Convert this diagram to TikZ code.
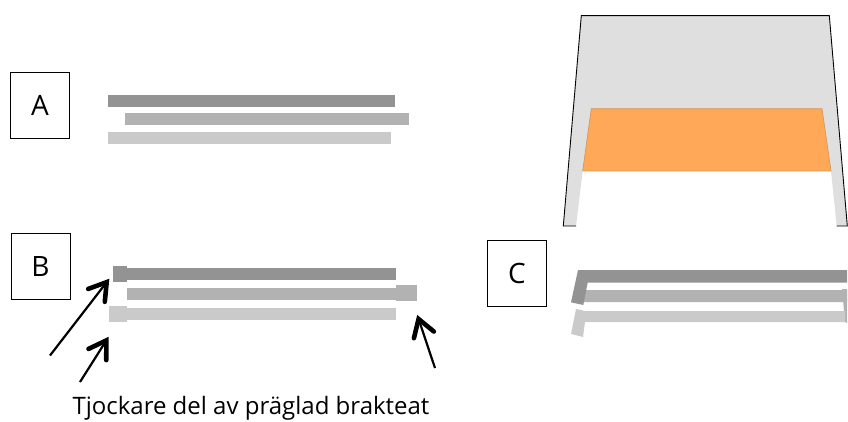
\documentclass[tikz,border=0pt]{standalone}
\usepackage{fontspec}
\setmainfont{Open Sans}
\usetikzlibrary{arrows.meta}
\definecolor{bardark}{HTML}{939393}
\definecolor{barmid}{HTML}{B2B2B2}
\definecolor{barlight}{HTML}{CACACA}
\definecolor{sheet}{HTML}{DFDFDF}
\definecolor{stamped}{HTML}{FFA858}
\definecolor{stampededge}{HTML}{D2985F}
\pgfdeclarearrow{
    name=Chevron,
    setup code={\pgfarrowssettipend{0pt}\pgfarrowssetlineend{-5pt}\pgfarrowssetbackend{-23pt}},
    drawing code={
        \pgfsetlinewidth{4.6pt}\pgfsetroundcap\pgfsetmiterjoin
        \pgfpathmoveto{\pgfpoint{-21pt}{10.5pt}}
        \pgfpathlineto{\pgfpoint{-4.3pt}{0pt}}
        \pgfpathlineto{\pgfpoint{-21pt}{-10.5pt}}
        \pgfusepathqstroke
    }
}
\tikzstyle{letter} = [
    rectangle, draw=black, line width=0.9pt, minimum width=59pt, minimum height=66pt,
    inner sep=0pt, text centered, font=\fontsize{28}{32}\selectfont
]
\tikzstyle{bar} = [rectangle, anchor=north west, inner sep=0pt, minimum height=12pt, outer sep=0pt]
\tikzstyle{stub} = [rectangle, anchor=north west, inner sep=0pt, minimum height=16pt, outer sep=0pt]
\tikzstyle{arrow} = [line width=2.2pt, -Chevron]

\begin{document}
\begin{tikzpicture}[x=1pt, y=-1pt]
    \useasboundingbox (0,0) rectangle (848,422);

    \node (boxa) [letter] at (40,105) {A};
    \node (boxb) [letter] at (40.5,266.5) {B};
    \node (boxc) [letter] at (517,273) {C};

    % A
    \node (a1) [bar, fill=bardark, minimum width=287pt] at (108,95) {};
    \node (a2) [bar, fill=barmid, minimum width=284pt] at (125,113) {};
    \node (a3) [bar, fill=barlight, minimum width=283pt] at (108,132) {};

    % B
    \node (b1) [bar, fill=bardark, minimum width=269pt] at (127,268) {};
    \node (b2) [bar, fill=barmid, minimum width=269pt] at (127,288) {};
    \node (b3) [bar, fill=barlight, minimum width=269pt] at (127,308) {};
    \node (stub1) [stub, fill=bardark, minimum width=14pt] at (113,266) {};
    \node (stub2) [stub, fill=barmid, minimum width=21pt] at (396,285) {};
    \node (stub3) [stub, fill=barlight, minimum width=18pt] at (109,306) {};

    \coordinate (tail1) at (50,355.5);
    \coordinate (tail2) at (80,382);
    \coordinate (tail3) at (435,368);
    \draw [arrow, shorten >=6pt] (tail1) -- (stub1.west);
    \draw [arrow, shorten >=17.5pt] (tail2) -- (stub3.south);
    \draw [arrow, shorten >=14.7pt] (tail3) -- (stub2.-53);

    \node (caption) [font=\fontsize{24}{28}\selectfont] at (251,408) {Tjockare del av präglad brakteat};

    % C
    \fill [barmid] (584,290) -- (847,290) -- (847,302) -- (582,302) -- cycle;
    \fill [barmid] (842,289) -- (847,289) -- (847,323) -- (845,322) -- cycle;
    \fill [barlight] (576,309) -- (585,311) -- (845,311) -- (845,322) -- (585,322)
                     -- (583,337) -- (571,334) -- cycle;
    \fill [bardark] (578,270) -- (847,270) -- (847,282.5) -- (587.7,282.5)
                    -- (583.3,305) -- (571,302.3) -- cycle;

    % top view
    \fill [sheet] (581.3,15.7) -- (829.3,15.7) -- (847.3,226) -- (836.7,226) -- (831,171)
                  -- (582.7,171) -- (576,226) -- (563.3,226) -- cycle;
    \draw [line width=0.9pt] (576,226) -- (563.3,226) -- (581.3,15.7) -- (829.3,15.7)
                             -- (847.3,226) -- (836.7,226);
    \draw [stampededge, fill=stamped, line width=0.7pt] (591.3,108.7) -- (822,108.7)
                             -- (831,171) -- (582.7,171) -- cycle;
\end{tikzpicture}
\end{document}
